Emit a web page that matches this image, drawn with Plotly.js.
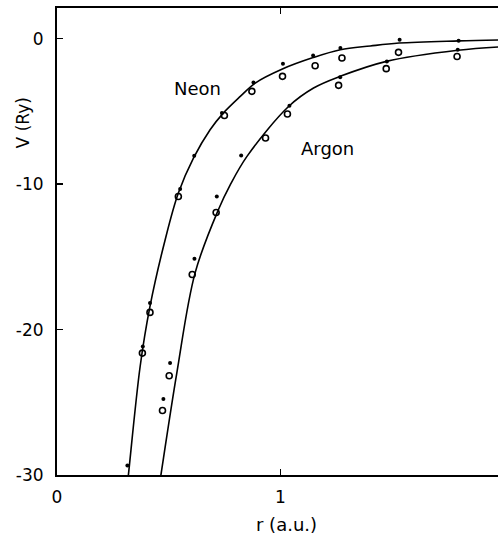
<!DOCTYPE html>
<html>
<head>
<meta charset="utf-8">
<script src="https://cdn.plot.ly/plotly-3.0.1.min.js"></script>
<style>
html, body { margin: 0; padding: 0; overflow: hidden; background: #fff; width: 498px; height: 535px; }
#chart { width: 512px; height: 535px; }
</style>
</head>
<body>
<div id="chart"></div>
<script>
// Fitted curves
const neonCurveX = [0.312, 0.319, 0.372, 0.416, 0.484, 0.543, 0.611, 0.685, 0.745, 0.820, 0.887, 1.006, 1.146, 1.268, 1.402, 1.53, 1.797, 2.0];
const neonCurveY = [-31.0, -30.06, -22.54, -18.41, -13.82, -10.61, -8.20, -6.26, -5.10, -3.97, -3.05, -2.10, -1.30, -0.76, -0.50, -0.30, -0.15, -0.08];
const argonCurveX = [0.455, 0.464, 0.536, 0.618, 0.722, 0.775, 0.850, 1.036, 1.148, 1.267, 1.474, 1.794, 2.0];
const argonCurveY = [-31.0, -30.1, -23.0, -16.1, -11.76, -10.05, -8.09, -4.66, -3.39, -2.59, -1.56, -0.80, -0.55];

// Data points: filled dots
const neonDotX = [0.315, 0.384, 0.416, 0.551, 0.614, 0.738, 0.879, 1.011, 1.146, 1.268, 1.533, 1.797];
const neonDotY = [-29.35, -21.16, -18.18, -10.34, -8.05, -5.11, -3.01, -1.72, -1.15, -0.64, -0.07, -0.14];
const argonDotX = [0.476, 0.506, 0.615, 0.715, 0.824, 1.040, 1.267, 1.476, 1.793];
const argonDotY = [-24.78, -22.30, -15.13, -10.85, -8.03, -4.61, -2.66, -1.56, -0.76];

// Data points: open circles
const neonCircleX = [0.382, 0.416, 0.543, 0.749, 0.872, 1.009, 1.155, 1.275, 1.528];
const neonCircleY = [-21.62, -18.82, -10.85, -5.28, -3.62, -2.59, -1.86, -1.33, -0.94];
const argonCircleX = [0.472, 0.502, 0.605, 0.712, 0.933, 1.031, 1.260, 1.473, 1.790];
const argonCircleY = [-25.56, -23.18, -16.21, -11.95, -6.83, -5.18, -3.21, -2.06, -1.22];

const xTickVals = [0, 1, 2];
const xTickText = ["0", "1", "2"];
const yTickVals = [0, -10, -20, -30];
const yTickText = ["0", "-10", "-20", "-30"];

const FONT = "DejaVu Sans, Arial, sans-serif";

const lineStyle = {color: "#000", width: 1.6, shape: "spline", smoothing: 1};
const dotMarker = {symbol: "circle", size: 4, color: "#000"};
const circMarker = {symbol: "circle-open", size: 6, color: "#000", line: {width: 1.6, color: "#000"}};

const traces = [
  {x: neonCurveX, y: neonCurveY, mode: "lines", line: lineStyle, name: "Neon fit"},
  {x: argonCurveX, y: argonCurveY, mode: "lines", line: lineStyle, name: "Argon fit"},
  {x: neonDotX, y: neonDotY, mode: "markers", marker: dotMarker, name: "Neon dots"},
  {x: argonDotX, y: argonDotY, mode: "markers", marker: dotMarker, name: "Argon dots"},
  {x: neonCircleX, y: neonCircleY, mode: "markers", marker: circMarker, name: "Neon circles"},
  {x: argonCircleX, y: argonCircleY, mode: "markers", marker: circMarker, name: "Argon circles"}
];

const layout = {
  width: 512, height: 535,
  margin: {l: 57, r: 8, t: 8, b: 60},
  paper_bgcolor: "#fff", plot_bgcolor: "#fff",
  showlegend: false,
  font: {family: FONT, color: "#000", size: 16},
  xaxis: {
    range: [0, 2], tickvals: xTickVals, ticktext: xTickText,
    ticks: "inside", ticklen: 6, tickwidth: 1.5, tickcolor: "#000",
    showline: true, linecolor: "#000", linewidth: 2, mirror: "ticks",
    showgrid: false, zeroline: false,
    tickfont: {family: FONT, size: 17, color: "#000"},
    ticklabelstandoff: 6
  },
  yaxis: {
    range: [-30, 2.11], tickvals: yTickVals, ticktext: yTickText,
    ticks: "inside", ticklen: 6, tickwidth: 1.5, tickcolor: "#000",
    showline: true, linecolor: "#000", linewidth: 2, mirror: "ticks",
    showgrid: false, zeroline: false,
    tickfont: {family: FONT, size: 17, color: "#000"},
    ticklabelstandoff: 8
  },
  annotations: [
    {x: 0.627, y: -3.40, xref: "x", yref: "y", text: "Neon", showarrow: false,
     font: {family: FONT, size: 18, color: "#000"}, xanchor: "center", yanchor: "middle"},
    {x: 1.209, y: -7.53, xref: "x", yref: "y", text: "Argon", showarrow: false,
     font: {family: FONT, size: 18, color: "#000"}, xanchor: "center", yanchor: "middle"},
    {x: 0.513, y: -0.106, xref: "paper", yref: "paper", text: "r (a.u.)", showarrow: false,
     font: {family: FONT, size: 18, color: "#000"}, xanchor: "center", yanchor: "middle"},
    {x: -0.076, y: 0.753, xref: "paper", yref: "paper", text: "V (Ry)", showarrow: false, textangle: -90,
     font: {family: FONT, size: 17, color: "#000"}, xanchor: "center", yanchor: "middle"}
  ]
};

Plotly.newPlot("chart", traces, layout, {staticPlot: true, displayModeBar: false});
</script>
</body>
</html>
